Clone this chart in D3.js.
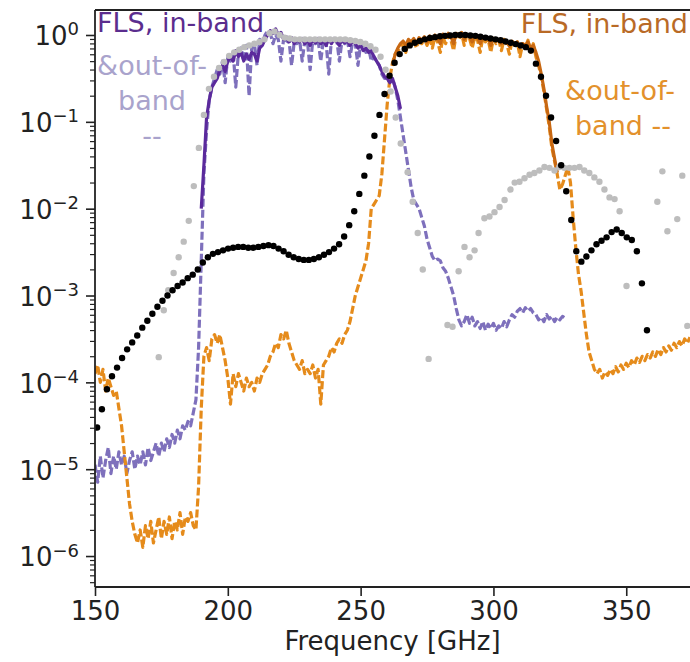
<!DOCTYPE html>
<html>
<head>
<meta charset="utf-8">
<script src="https://cdn.jsdelivr.net/npm/d3@7"></script>
<style>
  body { margin: 0; background: #fff; }
  svg { display: block; font-family: "DejaVu Sans", sans-serif; }
</style>
</head>
<body>
<div id="chart"></div>
<script>
// all series are [frequency GHz, log10(transmission)]

// FLS purple, out-of-band (dashed, light)
const purpleOut = [
  [150,-4.95],[151,-5.15],[152,-4.85],[153,-5.1],[154,-4.9],[155,-4.75],[156,-5.05],[157,-4.85],[158,-5.0],[159,-4.8],
  [160,-4.95],[161,-4.85],[162,-5.05],[163,-4.9],[164,-4.8],[165,-5.0],[166,-4.85],[167,-4.95],[168,-4.8],[169,-4.95],
  [170,-4.75],[171,-4.9],[172,-4.8],[173,-4.7],[174,-4.85],[175,-4.7],[176,-4.8],[177,-4.65],[178,-4.75],[179,-4.6],
  [180,-4.7],[181,-4.55],[182,-4.65],[183,-4.5],[184,-4.55],[185,-4.45],[186,-4.5],[187,-4.35],[188,-4.2],[189,-3.6],
  [190,-2.6],[191,-1.6],[192,-1.1],[193,-0.75],[194,-0.6],[195,-0.5],[196,-0.4],[197,-0.45],[198,-0.3],[199,-0.55],
  [200,-0.25],[201,-0.3],[202,-0.2],[203,-0.6],[204,-0.2],[205,-0.15],[206,-0.3],[207,-0.12],[208,-0.7],[209,-0.15],
  [210,-0.1],[211,-0.35],[212,-0.05],[213,-0.1],[214,0.0],[215,0.05],[216,0.02],[217,-0.1],[218,0.0],[219,-0.05],
  [220,-0.3],[221,-0.05],[222,-0.1],[223,-0.05],[224,-0.35],[225,-0.08],[226,-0.1],[227,-0.05],[228,-0.3],[229,-0.06],
  [230,-0.08],[231,-0.4],[232,-0.05],[233,-0.1],[234,-0.06],[235,-0.3],[236,-0.05],[237,-0.08],[238,-0.45],[239,-0.05],
  [240,-0.1],[241,-0.05],[242,-0.3],[243,-0.06],[244,-0.1],[245,-0.05],[246,-0.25],[247,-0.08],[248,-0.1],[249,-0.35],
  [250,-0.1],[251,-0.12],[252,-0.2],[253,-0.15],[254,-0.3],[255,-0.25],[256,-0.3],[257,-0.35],[258,-0.45],[259,-0.5],
  [260,-0.5],[261,-0.55],[262,-0.5],[263,-0.6],[264,-0.75],[265,-0.95],[266,-1.15],[267,-1.35],[268,-1.55],[269,-1.75],
  [270,-1.9],[271,-1.95],[272,-2.0],[273,-2.1],[274,-2.2],[275,-2.35],[276,-2.45],[277,-2.55],[278,-2.6],[279,-2.58],
  [280,-2.6],[281,-2.68],[282,-2.72],[283,-2.8],[284,-2.9],[285,-3.0],[286,-3.15],[287,-3.28],[288,-3.35],[289,-3.3],
  [290,-3.22],[291,-3.32],[292,-3.25],[293,-3.35],[294,-3.3],[295,-3.38],[296,-3.3],[297,-3.4],[298,-3.33],[299,-3.38],
  [300,-3.32],[301,-3.4],[302,-3.35],[303,-3.38],[304,-3.3],[305,-3.36],[306,-3.28],[307,-3.22],[308,-3.25],[309,-3.18],
  [310,-3.15],[311,-3.2],[312,-3.14],[313,-3.18],[314,-3.15],[315,-3.2],[316,-3.22],[317,-3.28],[318,-3.25],[319,-3.3],
  [320,-3.22],[321,-3.27],[322,-3.24],[323,-3.3],[324,-3.25],[325,-3.28],[326,-3.24],[327,-3.26]
];

// FLS purple, in-band (solid, dark)
const purpleIn = [
  [190,-2.0],[191,-1.5],[192,-0.95],[193,-0.75],[194,-0.6],[195,-0.55],[196,-0.5],[197,-0.4],[198,-0.35],[199,-0.42],
  [200,-0.3],[201,-0.25],[202,-0.3],[203,-0.18],[204,-0.25],[205,-0.2],[206,-0.3],[207,-0.22],[208,-0.28],[209,-0.2],
  [210,-0.22],[211,-0.3],[212,-0.15],[213,-0.12],[214,-0.05],[215,0.0],[216,0.05],[217,0.02],[218,0.07],[219,0.0],
  [220,0.03],[221,-0.05],[222,-0.02],[223,-0.08],[224,-0.03],[225,-0.1],[226,-0.05],[227,-0.08],[228,-0.04],[229,-0.1],
  [230,-0.06],[231,-0.12],[232,-0.05],[233,-0.09],[234,-0.04],[235,-0.1],[236,-0.06],[237,-0.12],[238,-0.05],[239,-0.1],
  [240,-0.04],[241,-0.08],[242,-0.12],[243,-0.05],[244,-0.09],[245,-0.06],[246,-0.12],[247,-0.07],[248,-0.1],[249,-0.15],
  [250,-0.12],[251,-0.18],[252,-0.15],[253,-0.2],[254,-0.18],[255,-0.25],[256,-0.3],[257,-0.35],[258,-0.42],[259,-0.48],
  [260,-0.5],[261,-0.55],[262,-0.5],[263,-0.6],[264,-0.7],[265,-0.85]
];

// FLS orange, out-of-band (dashed, light)
const orangeOut = [
  [150,-3.9],[151,-3.8],[152,-4.0],[153,-3.85],[154,-4.1],[155,-3.95],[156,-4.05],[157,-4.15],[158,-4.1],[159,-4.3],
  [160,-4.5],[161,-4.8],[162,-5.1],[163,-5.4],[164,-5.6],[165,-5.75],[166,-5.85],[167,-5.7],[168,-5.9],[169,-5.65],
  [170,-5.8],[171,-5.6],[172,-5.85],[173,-5.7],[174,-5.55],[175,-5.8],[176,-5.6],[177,-5.75],[178,-5.55],[179,-5.8],
  [180,-5.6],[181,-5.7],[182,-5.5],[183,-5.75],[184,-5.55],[185,-5.6],[186,-5.5],[187,-5.65],[188,-5.7],[189,-5.2],
  [190,-4.3],[191,-3.7],[192,-3.6],[193,-3.75],[194,-3.5],[195,-3.45],[196,-3.55],[197,-3.45],[198,-3.6],[199,-3.75],
  [200,-3.95],[201,-4.25],[202,-3.9],[203,-4.05],[204,-3.9],[205,-4.0],[206,-4.1],[207,-3.95],[208,-4.05],[209,-4.0],
  [210,-4.1],[211,-3.95],[212,-4.0],[213,-3.9],[214,-3.85],[215,-3.8],[216,-3.7],[217,-3.65],[218,-3.55],[219,-3.6],
  [220,-3.45],[221,-3.5],[222,-3.4],[223,-3.55],[224,-3.65],[225,-3.75],[226,-3.8],[227,-3.85],[228,-3.75],[229,-3.9],
  [230,-3.85],[231,-3.9],[232,-3.8],[233,-3.95],[234,-3.85],[235,-4.25],[236,-3.8],[237,-3.75],[238,-3.7],[239,-3.6],
  [240,-3.65],[241,-3.55],[242,-3.5],[243,-3.55],[244,-3.45],[245,-3.4],[246,-3.3],[247,-3.15],[248,-3.0],[249,-2.9],
  [250,-2.8],[251,-2.7],[252,-2.6],[253,-2.4],[254,-2.0],[255,-1.95],[256,-1.9],[257,-1.85],[258,-1.6],[259,-1.2],
  [260,-0.8],[261,-0.5],[262,-0.32],[263,-0.22],[264,-0.18],[265,-0.15],[266,-0.1],[267,-0.2],[268,-0.08],[269,-0.12],
  [270,-0.06],[271,-0.15],[272,-0.05],[273,-0.1],[274,-0.04],[275,-0.12],[276,-0.03],[277,-0.15],[278,-0.02],[279,-0.08],
  [280,-0.2],[281,-0.03],[282,-0.1],[283,0.0],[284,-0.06],[285,-0.18],[286,0.01],[287,-0.05],[288,0.02],[289,-0.12],
  [290,0.0],[291,-0.04],[292,-0.15],[293,-0.02],[294,-0.06],[295,-0.2],[296,-0.03],[297,-0.08],[298,-0.05],[299,-0.2],
  [300,-0.04],[301,-0.1],[302,-0.06],[303,-0.18],[304,-0.05],[305,-0.1],[306,-0.22],[307,-0.07],[308,-0.12],[309,-0.08],
  [310,-0.25],[311,-0.1],[312,-0.14],[313,-0.06],[314,-0.2],[315,-0.1],[316,-0.25],[317,-0.35],[318,-0.48],[319,-0.65],
  [320,-0.85],[321,-1.05],[322,-1.3],[323,-1.45],[324,-1.6],[325,-1.78],[326,-1.72],[327,-1.62],[328,-1.52],[329,-1.7],
  [330,-2.1],[331,-2.45],[332,-2.75],[333,-2.95],[334,-3.2],[335,-3.45],[336,-3.65],[337,-3.75],[338,-3.85],[339,-3.9],
  [340,-3.85],[341,-3.95],[342,-3.88],[343,-3.92],[344,-3.85],[345,-3.9],[346,-3.82],[347,-3.88],[348,-3.8],[349,-3.85],
  [350,-3.78],[351,-3.83],[352,-3.75],[353,-3.8],[354,-3.72],[355,-3.77],[356,-3.7],[357,-3.75],[358,-3.68],[359,-3.72],
  [360,-3.65],[361,-3.7],[362,-3.62],[363,-3.68],[364,-3.6],[365,-3.65],[366,-3.58],[367,-3.63],[368,-3.55],[369,-3.6],
  [370,-3.53],[371,-3.58],[372,-3.5],[373,-3.55],[374,-3.48]
];

// FLS orange, in-band (solid, dark)
const orangeIn = [
  [262,-0.35],[263,-0.22],[264,-0.15],[265,-0.1],[266,-0.07],[267,-0.12],[268,-0.05],[269,-0.08],
  [270,-0.04],[271,-0.1],[272,-0.03],[273,-0.06],[274,-0.02],[275,-0.08],[276,-0.01],[277,-0.05],[278,0.0],[279,-0.04],
  [280,-0.1],[281,0.01],[282,-0.03],[283,0.02],[284,-0.02],[285,-0.1],[286,0.02],[287,0.0],[288,0.03],[289,-0.05],
  [290,0.01],[291,-0.02],[292,-0.08],[293,0.0],[294,-0.03],[295,-0.1],[296,-0.02],[297,-0.05],[298,-0.03],[299,-0.12],
  [300,-0.04],[301,-0.07],[302,-0.05],[303,-0.1],[304,-0.06],[305,-0.08],[306,-0.13],[307,-0.07],[308,-0.1],[309,-0.08],
  [310,-0.15],[311,-0.1],[312,-0.12],[313,-0.08],[314,-0.15],[315,-0.12],[316,-0.2],[317,-0.3],[318,-0.45],[319,-0.62],
  [320,-0.82],[321,-1.0],[322,-1.25],[323,-1.42],[324,-1.58]
];

// simulation, black dots
const simBlack = [
  [150.8,-4.52],[152.6,-4.31],[154.5,-4.08],[156.4,-3.93],[158.3,-3.83],[160.2,-3.72],[162.1,-3.62],[164.0,-3.54],
  [165.9,-3.46],[167.8,-3.37],[169.7,-3.29],[171.6,-3.21],[173.5,-3.13],[175.4,-3.06],[177.3,-3.0],[179.2,-2.94],
  [181.1,-2.89],[183.0,-2.85],[184.9,-2.8],[186.8,-2.76],[188.7,-2.7],[190.6,-2.62],[192.5,-2.56],[194.4,-2.52],
  [196.3,-2.5],[198.2,-2.48],[200.1,-2.46],[202.0,-2.45],[203.9,-2.44],[205.8,-2.44],[207.7,-2.45],[209.6,-2.45],
  [211.5,-2.44],[213.4,-2.43],[215.3,-2.42],[217.2,-2.43],[219.1,-2.46],[221.0,-2.49],[222.9,-2.53],[224.8,-2.56],
  [226.7,-2.58],[228.6,-2.59],[230.5,-2.59],[232.4,-2.58],[234.3,-2.56],[236.2,-2.53],[238.1,-2.5],[240.0,-2.46],
  [241.9,-2.41],[243.8,-2.32],[245.7,-2.19],[247.6,-2.03],[249.5,-1.83],[251.4,-1.62],[253.3,-1.4],[255.2,-1.16],
  [257.1,-0.92],[259.0,-0.68],[260.9,-0.47],[262.8,-0.32],[264.7,-0.22],[266.6,-0.16],[268.5,-0.12],[270.4,-0.09],
  [272.3,-0.07],[274.2,-0.05],[276.1,-0.035],[278.0,-0.025],[279.9,-0.015],[281.8,-0.01],[283.7,-0.005],[285.6,0.0],
  [287.5,0.0],[289.4,0.0],[291.3,-0.005],[293.2,-0.01],[295.1,-0.02],[297.0,-0.03],[298.9,-0.04],[300.8,-0.05],
  [302.7,-0.06],[304.6,-0.075],[306.5,-0.09],[308.4,-0.105],[310.3,-0.12],[312.2,-0.14],[314.1,-0.18],[316.0,-0.33],
  [317.9,-0.48],[319.8,-0.7],[321.7,-0.95],[323.6,-1.22],[325.5,-1.5],[327.4,-1.8],[329.3,-2.13],[331.2,-2.49],
  [333.1,-2.61],[335.0,-2.55],[336.9,-2.48],[338.8,-2.41],[340.7,-2.37],[342.6,-2.33],[344.5,-2.27],[346.4,-2.24],
  [348.3,-2.28],[350.2,-2.33],[352.1,-2.36],[354.0,-2.49],[355.9,-2.86],[357.8,-3.4]
];

// simulation, grey dots
const simGrey = [
  [174.0,-3.71],[175.9,-3.17],[177.6,-2.94],[179.6,-2.74],[181.5,-2.56],[183.4,-2.38],[185.3,-2.14],[187.2,-1.74],
  [189.1,-1.3],[191.0,-0.92],[192.9,-0.62],[194.8,-0.48],[196.7,-0.38],[198.6,-0.31],[200.5,-0.24],[202.4,-0.2],
  [204.3,-0.17],[206.2,-0.14],[208.1,-0.12],[210.0,-0.1],[211.9,-0.08],[213.8,-0.05],[215.7,0.02],[217.6,0.04],
  [219.5,0.0],[221.4,-0.03],[223.3,-0.04],[225.2,-0.05],[227.1,-0.05],[229.0,-0.05],[230.9,-0.05],[232.8,-0.05],
  [234.7,-0.05],[236.6,-0.05],[238.5,-0.05],[240.4,-0.05],[242.3,-0.05],[244.2,-0.05],[246.1,-0.06],[248.0,-0.07],
  [249.9,-0.08],[251.8,-0.1],[253.7,-0.13],[255.6,-0.17],[257.5,-0.25],[259.4,-0.4],[261.3,-0.65],[263.2,-0.95],
  [265.1,-1.25],[267.7,-1.58],[269.6,-1.92],[271.5,-2.28],[273.4,-2.7],[275.6,-3.73],[282.7,-3.34],[284.6,-3.36],
  [286.9,-2.72],[289.1,-2.44],[291.0,-2.56],[292.9,-2.48],[294.4,-2.28],[296.6,-2.11],[298.5,-2.09],[300.4,-2.04],
  [302.3,-1.98],[304.2,-1.9],[306.4,-1.78],[308.0,-1.7],[309.8,-1.69],[311.7,-1.65],[313.6,-1.61],[315.4,-1.59],
  [317.3,-1.56],[319.2,-1.52],[321.1,-1.53],[323.0,-1.56],[324.8,-1.52],[326.7,-1.53],[328.6,-1.53],[330.5,-1.53],
  [332.4,-1.52],[334.2,-1.56],[336.1,-1.59],[338.0,-1.64],[339.9,-1.69],[341.8,-1.78],[343.7,-1.87],[345.6,-1.89],
  [347.5,-2.03],[350.1,-2.89],[361.7,-1.92],[363.6,-1.57],[365.5,-2.26],[369.2,-2.12],[371.1,-1.62],[373.0,-3.35]
];

const xTicks = [150, 200, 250, 300, 350];
const yDecades = [-6, -5, -4, -3, -2, -1, 0];

const width = 690, height = 662;
const margin = { top: 10, right: 0, bottom: 75, left: 95 };

const svg = d3.select("#chart").append("svg")
  .attr("width", width)
  .attr("height", height);

const x = d3.scaleLinear()
  .domain([150, 374])
  .range([margin.left, width - margin.right]);

const y = d3.scaleLog()
  .domain([4.4e-7, 1.94])
  .range([height - margin.bottom, margin.top]);

svg.append("defs").append("clipPath").attr("id", "plot")
  .append("rect")
  .attr("x", margin.left).attr("y", margin.top)
  .attr("width", width - margin.left - margin.right)
  .attr("height", height - margin.top - margin.bottom);

const plot = svg.append("g").attr("clip-path", "url(#plot)");

const line = d3.line()
  .x((d) => x(d[0]))
  .y((d) => y(Math.pow(10, d[1])));

function drawLine(data, color, dashed) {
  plot.append("path")
    .datum(data)
    .attr("d", line)
    .attr("fill", "none")
    .attr("stroke", color)
    .attr("stroke-width", 3.2)
    .attr("stroke-linejoin", "round")
    .attr("stroke-dasharray", dashed ? "8,3" : null);
}

drawLine(purpleOut, "#7e70bc", true);
drawLine(orangeOut, "#e58b1b", true);
drawLine(purpleIn, "#5b2a9c", false);
drawLine(orangeIn, "#c86812", false);

function drawDots(data, color) {
  plot.append("g")
    .selectAll("circle")
    .data(data)
    .join("circle")
    .attr("cx", (d) => x(d[0]))
    .attr("cy", (d) => y(Math.pow(10, d[1])))
    .attr("r", 3.2)
    .attr("fill", color);
}

drawDots(simGrey, "#bdbdbd");
drawDots(simBlack, "#000");

// axes
const axisColor = "#222";
const fontSize = 26;

const xAxis = svg.append("g")
  .attr("transform", "translate(0," + (height - margin.bottom) + ")")
  .call(d3.axisBottom(x).tickValues(xTicks).tickSize(9).tickPadding(6).tickFormat(d3.format("d")));
xAxis.select(".domain").remove();
xAxis.selectAll("line").attr("stroke", axisColor).attr("stroke-width", 1.6);
xAxis.selectAll("text").attr("font-size", fontSize).attr("fill", "#222")
  .attr("font-family", "DejaVu Sans");

const majors = yDecades.map((k) => Math.pow(10, k));
const minors = [];
for (let k = -7; k <= 0; k++) {
  for (let m = 2; m <= 9; m++) {
    const v = m * Math.pow(10, k);
    if (v >= y.domain()[0] && v <= y.domain()[1]) minors.push(v);
  }
}

const yMinor = svg.append("g")
  .attr("transform", "translate(" + margin.left + ",0)")
  .call(d3.axisLeft(y).tickValues(minors).tickSize(5).tickFormat(""));
yMinor.select(".domain").remove();
yMinor.selectAll("line").attr("stroke", axisColor).attr("stroke-width", 1.2);

const yAxis = svg.append("g")
  .attr("transform", "translate(" + margin.left + ",0)")
  .call(d3.axisLeft(y).tickValues(majors).tickSize(9).tickPadding(7).tickFormat(""));
yAxis.select(".domain").remove();
yAxis.selectAll("line").attr("stroke", axisColor).attr("stroke-width", 1.6);
yAxis.selectAll("text").each(function (d, i) {
  const t = d3.select(this)
    .attr("font-size", fontSize)
    .attr("fill", "#222")
    .attr("font-family", "DejaVu Sans")
    .attr("dy", "0.38em");
  t.append("tspan").text("10");
  const e = yDecades[i];
  t.append("tspan")
    .attr("font-size", 18)
    .attr("dy", "-0.55em")
    .text(e === 0 ? "0" : "\u2212" + Math.abs(e));
});

// spines
const spine = svg.append("g").attr("stroke", axisColor).attr("stroke-width", 1.8);
spine.append("line")
  .attr("x1", margin.left).attr("x2", margin.left)
  .attr("y1", margin.top).attr("y2", height - margin.bottom);
spine.append("line")
  .attr("x1", margin.left).attr("x2", width)
  .attr("y1", height - margin.bottom).attr("y2", height - margin.bottom);
spine.append("line")
  .attr("x1", margin.left).attr("x2", width)
  .attr("y1", margin.top).attr("y2", margin.top);

svg.append("text")
  .attr("x", (margin.left + width - margin.right) / 2)
  .attr("y", 650)
  .attr("text-anchor", "middle")
  .attr("font-size", fontSize)
  .attr("fill", "#222")
  .text("Frequency [GHz]");

// annotations
const notes = svg.append("g").attr("font-size", 27);
notes.append("text").attr("x", 97).attr("y", 32).attr("fill", "#5b2d8e").text("FLS, in-band");
const leftNote = notes.append("g").attr("fill", "#a9a3cc").attr("text-anchor", "middle");
leftNote.append("text").attr("x", 152).attr("y", 75).text("&out-of-");
leftNote.append("text").attr("x", 152).attr("y", 110).text("band");
leftNote.append("text").attr("x", 152).attr("y", 145).text("--");

notes.append("text").attr("x", 688).attr("y", 33).attr("text-anchor", "end")
  .attr("fill", "#b96a26").text("FLS, in-band");
const rightNote = notes.append("g").attr("fill", "#e3912c").attr("text-anchor", "middle");
rightNote.append("text").attr("x", 620).attr("y", 100).text("&out-of-");
rightNote.append("text").attr("x", 623).attr("y", 135).text("band --");
</script>
</body>
</html>
